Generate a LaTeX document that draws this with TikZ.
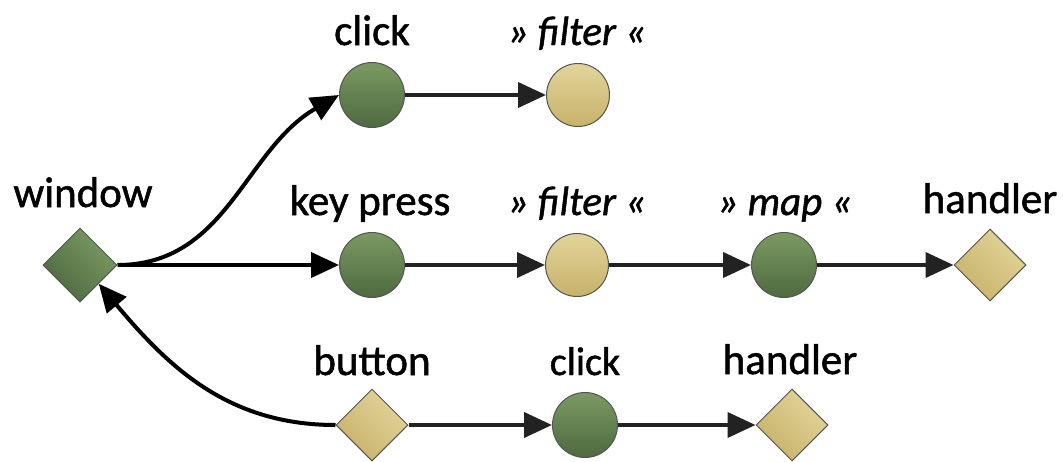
\documentclass[tikz,border=0pt]{standalone}
\usepackage{fontspec}
\setmainfont{Carlito}[FakeBold=1.2,ItalicFeatures={FakeBold=1.2}]
\usetikzlibrary{shapes.geometric,arrows.meta}
\definecolor{gtop}{HTML}{7A9A62}
\definecolor{gbot}{HTML}{4E6A40}
\definecolor{ttop}{HTML}{E2D49A}
\definecolor{tbot}{HTML}{C7B26A}
\definecolor{edge}{HTML}{555555}
\definecolor{lnk}{HTML}{222222}
\tikzset{
  gcirc/.style={circle, draw=edge, line width=1pt, minimum size=65pt, inner sep=0pt, top color=gtop, bottom color=gbot},
  tcirc/.style={circle, draw=edge, line width=1pt, minimum size=63pt, inner sep=0pt, top color=ttop, bottom color=tbot},
  gdiam/.style={diamond, draw=edge, line width=1pt, minimum width=74pt, minimum height=74pt, inner sep=0pt, left color=gbot, right color=gtop, shading angle=135},
  tdiam/.style={diamond, draw=edge, line width=1pt, minimum width=72pt, minimum height=72pt, inner sep=0pt, left color=tbot, right color=ttop, shading angle=135},
  lab/.style={anchor=base, font=\fontsize{43}{50}\selectfont},
  ilab/.style={anchor=base, font=\fontsize{41}{50}\selectfont\itshape},
  curv/.style={line width=4pt, black, -{Triangle[length=28pt,width=25pt]}},
  link/.style={line width=4pt, lnk, -{Triangle[length=28pt,width=25pt]}},
}
\begin{document}
\begin{tikzpicture}[x=1pt,y=-1pt]
\useasboundingbox (0,0) rectangle (1063,461);
% nodes
\node[gdiam] (win) at (80,265) {};
\node[gcirc] (c1) at (372,95) {};
\node[tcirc] (f1) at (578,95) {};
\node[gcirc] (kp) at (372,265) {};
\node[tcirc] (f2) at (577,265) {};
\node[gcirc] (mp) at (784,265) {};
\node[tdiam] (h1) at (990,265) {};
\node[tdiam] (bt) at (372,425) {};
\node[gcirc] (c2) at (585,425) {};
\node[tdiam] (h2) at (792,425) {};
% labels
\node[lab] (lwin) at (83,207) {window};
\node[lab] (lc1) at (372,45) {click};
\node[ilab] (lf1) at (577,45) {» filter «};
\node[lab] (lkp) at (370,215) {key press};
\node[ilab] (lf2) at (577,215) {» filter «};
\node[ilab] (lmp) at (785,215) {» map «};
\node[lab] (lh1) at (990,213) {handler};
\node[lab] (lbt) at (372,375) {button};
\node[lab, font=\fontsize{40}{48}\selectfont] (lc2) at (585,375) {click};
\node[lab] (lh2) at (790,374) {handler};
% connectors
\draw[curv] (win.east) to[out=0,in=210] (c1.west);
\draw[curv] (win.east) -- (kp.west);
\draw[curv] (bt.west) to[out=180,in=-50] (win.south east);
\draw[link] (c1.east) -- (f1.west);
\draw[link] (kp.east) -- (f2.west);
\draw[link] (f2.east) -- (mp.west);
\draw[link] (mp.east) -- (h1.west);
\draw[link] (bt.east) -- (c2.west);
\draw[link] (c2.east) -- (h2.west);
\end{tikzpicture}
\end{document}
